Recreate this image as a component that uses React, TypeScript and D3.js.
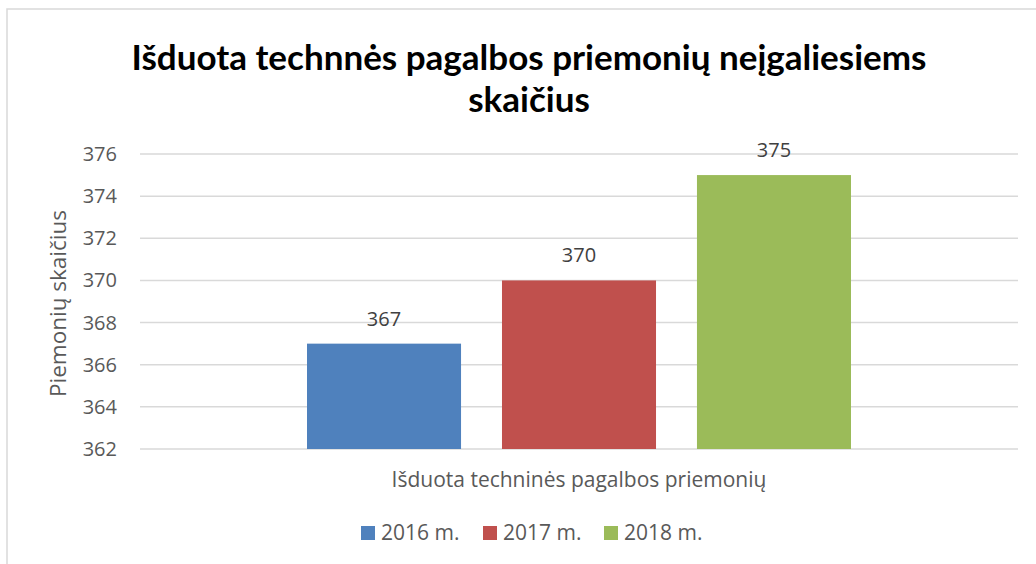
import React from "react";
import { scaleBand, scaleLinear, range } from "d3";

// chart data
const categories = ["Išduota techninės pagalbos priemonių"];
const seriesNames = ["2016 m.", "2017 m.", "2018 m."];
const seriesValues = [367, 370, 375];
const seriesColors = ["#4F81BD", "#C0504D", "#9BBB59"];
const yTicks = range(362, 377, 2);

const titleLines = ["Išduota technnės pagalbos priemonių neįgaliesiems", "skaičius"];
const yAxisTitle = "Piemonių skaičius";

const W = 1036;
const H = 564;
const titleFont = "Lato, 'Open Sans', sans-serif";
const font = "'Open Sans', sans-serif";

function App() {
    // plot area
    const left = 140;
    const right = 1018;
    const top = 154;
    const bottom = 449;

    const yScale = scaleLinear().domain([362, 376]).range([bottom, top]);

    const xOuter = scaleBand<string>()
        .domain(categories)
        .range([left, right])
        .paddingInner(0)
        .paddingOuter(0.307);

    const xInner = scaleBand<string>()
        .domain(seriesNames)
        .range([0, xOuter.bandwidth()])
        .paddingInner(0.21)
        .paddingOuter(0);

    // legend layout
    const legendX = [361, 483, 604];

    return (
        <svg
            width={W}
            height={H}
            style={{ position: "absolute", left: 0, top: 0, background: "#fff" }}
        >
            {/* outer chart border */}
            <rect x={7} y={9} width={W} height={H} fill="#fff" stroke="#D9D9D9" strokeWidth={1.5} />

            {/* title */}
            {titleLines.map((t, i) => (
                <text
                    key={i}
                    x={529}
                    y={70 + i * 42}
                    textAnchor="middle"
                    fontFamily={titleFont}
                    fontWeight="bold"
                    fontSize={35}
                    fill="#000"
                >
                    {t}
                </text>
            ))}

            {/* grid lines and y tick labels */}
            {yTicks.map((t) => (
                <g key={t}>
                    <line
                        x1={left}
                        x2={right}
                        y1={yScale(t)}
                        y2={yScale(t)}
                        stroke="#D9D9D9"
                        strokeWidth={1.5}
                    />
                    <text
                        x={117}
                        y={yScale(t)}
                        dy="0.35em"
                        textAnchor="end"
                        fontFamily={font}
                        fontSize={20}
                        fill="#595959"
                    >
                        {t}
                    </text>
                </g>
            ))}

            {/* y axis title */}
            <text
                transform={`translate(58, ${(top + bottom) / 2 + 2}) rotate(-90)`}
                dy="0.35em"
                textAnchor="middle"
                fontFamily={font}
                fontSize={22.5}
                fill="#595959"
            >
                {yAxisTitle}
            </text>

            {/* bars and data labels */}
            {categories.map((c) =>
                seriesNames.map((s, i) => {
                    const x = (xOuter(c) ?? 0) + (xInner(s) ?? 0);
                    const v = seriesValues[i];
                    return (
                        <g key={s}>
                            <rect
                                x={x}
                                y={yScale(v)}
                                width={xInner.bandwidth()}
                                height={bottom - yScale(v)}
                                fill={seriesColors[i]}
                            />
                            <text
                                x={x + xInner.bandwidth() / 2}
                                y={yScale(v) - 18}
                                textAnchor="middle"
                                fontFamily={font}
                                fontSize={20}
                                fill="#404040"
                            >
                                {v}
                            </text>
                        </g>
                    );
                })
            )}

            {/* x category label */}
            {categories.map((c) => (
                <text
                    key={c}
                    x={(xOuter(c) ?? 0) + xOuter.bandwidth() / 2}
                    y={487}
                    textAnchor="middle"
                    fontFamily={font}
                    fontSize={21}
                    fill="#595959"
                >
                    {c}
                </text>
            ))}

            {/* legend */}
            {seriesNames.map((s, i) => (
                <g key={s} transform={`translate(${legendX[i]}, 526)`}>
                    <rect width={14} height={14} fill={seriesColors[i]} />
                    <text x={20} y={14} fontFamily={font} fontSize={21} fill="#595959">
                        {s}
                    </text>
                </g>
            ))}
        </svg>
    );
}

export default App;
